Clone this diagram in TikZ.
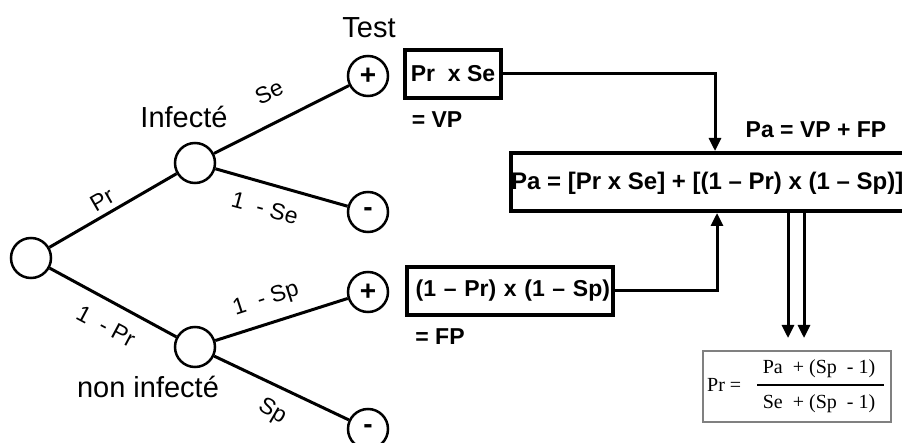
\documentclass[tikz,border=0pt]{standalone}
\usepackage{fontspec}
\setmainfont{Liberation Sans}
\newfontfamily\tnr{Liberation Serif}
\usetikzlibrary{arrows.meta}
\begin{document}
\begin{tikzpicture}[x=1pt,y=-1pt,
 circ/.style={circle,draw,line width=2.5pt,minimum size=40pt,inner sep=0pt,font=\fontsize{28}{32}\selectfont\bfseries},
 branch/.style={line width=3pt},
 lbl/.style={font=\fontsize{23}{27}\selectfont,inner sep=0pt},
 big/.style={font=\fontsize{29}{34}\selectfont,inner sep=0pt},
 bx/.style={draw,line width=4pt,font=\fontsize{23}{27}\selectfont\bfseries,inner sep=0pt},
 bold/.style={font=\fontsize{23}{27}\selectfont\bfseries,inner sep=0pt},
 conn/.style={line width=3pt},
 arr/.style={conn,-{Triangle[width=12pt,length=13pt]}},
 frm/.style={font=\fontsize{20}{24}\selectfont\tnr,inner sep=0pt},
]
\useasboundingbox (0,0) rectangle (902,443);
\clip (0,0) rectangle (902,443);

% tree nodes
\node[circ] (root) at (31,258) {};
\node[circ] (inf) at (195,163) {};
\node[circ] (ninf) at (195,347) {};
\node[circ] (p1) at (368,76) {+};
\node[circ] (m1) at (368,212) {-};
\node[circ] (p2) at (368,292) {+};
\node[circ] (m2) at (368,429) {-};

\draw[branch] (root) -- (inf);
\draw[branch] (root) -- (ninf);
\draw[branch] (inf) -- (p1);
\draw[branch] (inf) -- (m1);
\draw[branch] (ninf) -- (p2);
\draw[branch] (ninf) -- (m2);

% branch labels
\node[lbl,rotate=30] (lpr) at (102,200) {Pr};
\node[lbl,rotate=-28] (l1pr) at (106,326) {1\ \ - Pr};
\node[lbl,rotate=26] (lse) at (269,92) {Se};
\node[lbl,rotate=-15] (l1se) at (265,208) {1\ \ - Se};
\node[lbl,rotate=18] (l1sp) at (266,300) {1\ \ - Sp};
\node[lbl,rotate=-30] (lsp) at (272,412) {Sp};

% titles
\node[big,anchor=base] (test) at (369,38) {Test};
\node[big,anchor=base] (tinf) at (184,128) {Infecté};
\node[big,anchor=base] (tninf) at (148,398) {non infecté};

% boxes
\node[bx,minimum width=96pt,minimum height=48pt] (vp) at (453,74) {Pr\ \ x Se};
\node[bold] (vpl) at (437,120) {= VP};
\node[bx,minimum height=48pt,text width=200pt,align=right,inner xsep=3pt] (fp) at (510,291) {(1 – Pr) x (1 – Sp)};
\node[bold] (fpl) at (440,337) {= FP};
\node[bx,anchor=west,minimum width=401pt,minimum height=58pt] (pa) at (509,182) {};
\node[anchor=west,inner sep=0pt,font=\fontsize{24}{28}\selectfont\bfseries] (patx) at (511,183) {Pa = [Pr x Se] + [(1 – Pr) x (1 – Sp)]};
\node[bold] (pal) at (816,130) {Pa = VP + FP};

% connectors
\coordinate (c1) at (715,0);
\coordinate (c2) at (717,0);
\coordinate (d1) at (788,338);
\coordinate (d2) at (804,338);
\draw[arr] (vp.east) -| (c1 |- pa.north);
\draw[arr] (fp.east) -| (c2 |- pa.south);
\draw[arr] (d1 |- pa.south) -- (d1);
\draw[arr] (d2 |- pa.south) -- (d2);

% formula
\node[draw=gray,line width=2pt,minimum width=188pt,minimum height=71pt,inner sep=0pt] (fr) at (797,386.5) {};
\node[frm,anchor=west] (frl) at (707,385) {Pr =};
\node[frm] (fnum) at (819,369) {Pa\ \ + (Sp\ \ - 1)};
\node[frm] (fden) at (819,404) {Se\ \ + (Sp\ \ - 1)};
\draw[line width=1pt] (757,385) -- (884,385);
\end{tikzpicture}
\end{document}
